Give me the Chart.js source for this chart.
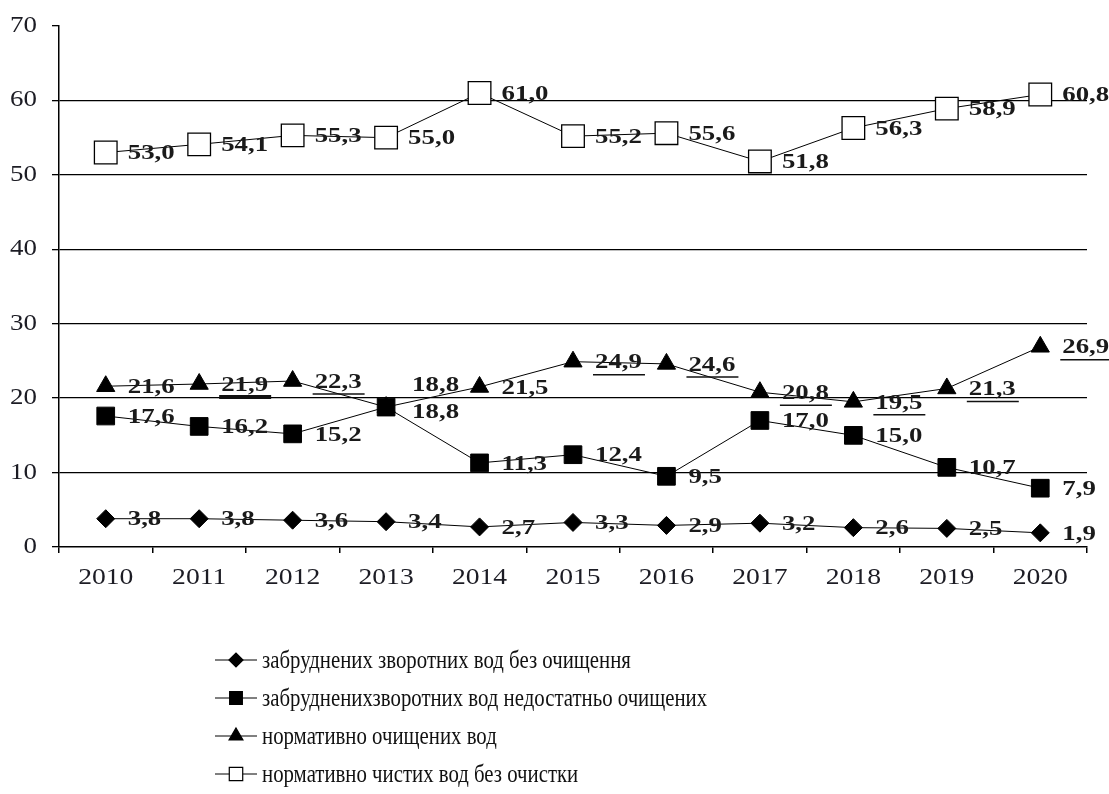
<!DOCTYPE html>
<html>
<head>
<meta charset="utf-8">
<script src="https://cdn.jsdelivr.net/npm/chart.js@4/dist/chart.umd.min.js"></script>
<style>
  html, body { margin: 0; padding: 0; background: #fff; }
  #wrap { width: 1109px; height: 794px; position: relative; }
</style>
</head>
<body>
<div id="wrap"><canvas id="Cnvs"></canvas></div>
<script>
var years = ['2010', '2011', '2012', '2013', '2014', '2015', '2016', '2017', '2018', '2019', '2020'];

var noTreatment   = [3.8, 3.8, 3.6, 3.4, 2.7, 3.3, 2.9, 3.2, 2.6, 2.5, 1.9];
var poorlyTreated = [17.6, 16.2, 15.2, 18.8, 11.3, 12.4, 9.5, 17.0, 15.0, 10.7, 7.9];
var normTreated   = [21.6, 21.9, 22.3, 18.8, 21.5, 24.9, 24.6, 20.8, 19.5, 21.3, 26.9];
var cleanNoTreat  = [53.0, 54.1, 55.3, 55.0, 61.0, 55.2, 55.6, 51.8, 56.3, 58.9, 60.8];

var seriesNames = [
  'забруднених зворотних вод без очищення',
  'забрудненихзворотних вод недостатньо очищених',
  'нормативно очищених вод',
  'нормативно чистих вод без очистки'
];

var yTicks = [0, 10, 20, 30, 40, 50, 60, 70];

var serif = '"Liberation Serif", "DejaVu Serif", serif';

// the source uses a stretched / squeezed serif, so text is drawn with a horizontal scale
function drawText(ctx, txt, x, y, font, sx, align) {
  ctx.save();
  ctx.font = font;
  ctx.textBaseline = 'middle';
  var w = ctx.measureText(txt).width * sx;
  var left = x;
  if (align === 'center') left = x - w / 2;
  if (align === 'right') left = x - w;
  ctx.translate(left, y);
  ctx.scale(sx, 1);
  ctx.textAlign = 'left';
  ctx.fillText(txt, 0, 0);
  ctx.restore();
  return w;
}

// value labels next to the points
var valueLabels = {
  id: 'valueLabels',
  afterDatasetsDraw: function(chart) {
    var ctx = chart.ctx;
    ctx.save();
    ctx.fillStyle = '#1a1a1a';
    chart.data.datasets.forEach(function(ds, di) {
      var meta = chart.getDatasetMeta(di);
      meta.data.forEach(function(pt, i) {
        var txt = ds.data[i].toFixed(1).replace('.', ',');
        var dx = 22, dy = 1;
        if (di === 1 && i === 3) { dx = 26; dy = 5; }
        if (di === 2 && i === 3) { dx = 26; dy = -22; }
        var x = pt.x + dx, y = pt.y + dy;
        var w = drawText(ctx, txt, x, y, 'bold 22px ' + serif, 1.22, 'left');
        // the triangle series has underlined labels in the source
        if (di === 2 && i >= 1 && i !== 3 && i !== 4) {
          ctx.strokeStyle = '#111';
          ctx.lineWidth = i === 1 ? 4 : 1.5;
          ctx.beginPath();
          ctx.moveTo(x - 2, y + 12);
          ctx.lineTo(x + w + 3, y + 12);
          ctx.stroke();
        }
      });
    });
    ctx.restore();
  }
};

// axis tick labels and the vertical legend under the plot
var textLayer = {
  id: 'textLayer',
  afterDraw: function(chart) {
    var ctx = chart.ctx;
    var xs = chart.scales.x, ys = chart.scales.y;
    ctx.save();
    ctx.fillStyle = '#1c1c24';
    xs.ticks.forEach(function(t, i) {
      drawText(ctx, years[i], xs.getPixelForTick(i), chart.chartArea.bottom + 31, '24px ' + serif, 1.15, 'center');
    });
    ys.ticks.forEach(function(t) {
      drawText(ctx, String(t.value), 37, ys.getPixelForValue(t.value), '23px ' + serif, 1.17, 'right');
    });

    var top = chart.chartArea.bottom + 113;
    chart.data.datasets.forEach(function(ds, i) {
      var y = top + i * 38;
      ctx.strokeStyle = '#000';
      ctx.lineWidth = 1;
      ctx.beginPath();
      ctx.moveTo(215, y);
      ctx.lineTo(257, y);
      ctx.stroke();
      ctx.fillStyle = ds.pointBackgroundColor;
      ctx.strokeStyle = '#000';
      ctx.lineWidth = 1.2;
      Chart.helpers.drawPoint(ctx, { pointStyle: ds.pointStyle, rotation: 0, radius: ds.legendRadius, borderWidth: 1.2 }, 236, y);
      ctx.fillStyle = '#111';
      drawText(ctx, seriesNames[i], 262, y + 1, '26px ' + serif, 0.8, 'left');
    });
    ctx.restore();
  }
};

var chart = new Chart(document.getElementById('Cnvs'), {
  type: 'line',
  data: {
    labels: years,
    datasets: [
      { label: seriesNames[0], data: noTreatment, pointStyle: 'rectRot', pointRadius: 9, legendRadius: 7,
        borderColor: '#000', borderWidth: 1, pointBackgroundColor: '#000', pointBorderColor: '#000' },
      { label: seriesNames[1], data: poorlyTreated, pointStyle: 'rect', pointRadius: 12.5, legendRadius: 9,
        borderColor: '#000', borderWidth: 1, pointBackgroundColor: '#000', pointBorderColor: '#000' },
      { label: seriesNames[2], data: normTreated, pointStyle: 'triangle', pointRadius: 10.5, legendRadius: 8,
        borderColor: '#000', borderWidth: 1, pointBackgroundColor: '#000', pointBorderColor: '#000' },
      { label: seriesNames[3], data: cleanNoTreat, pointStyle: 'rect', pointRadius: 16, legendRadius: 9.5,
        borderColor: '#000', borderWidth: 1, pointBackgroundColor: '#fff', pointBorderColor: '#000', pointBorderWidth: 1.3 }
    ]
  },
  options: {
    responsive: true,
    maintainAspectRatio: false,
    animation: false,
    layout: { padding: { top: 26, right: 22, bottom: 197, left: 0 } },
    elements: { line: { tension: 0 } },
    plugins: {
      legend: { display: false },
      tooltip: { enabled: false }
    },
    scales: {
      x: {
        offset: true,
        afterFit: function(s) { s.height = 50; },
        grid: { offset: true, drawOnChartArea: false, drawTicks: true, tickLength: 6, tickColor: '#000', lineWidth: 1.5 },
        border: { display: true, color: '#000', width: 1.5 },
        ticks: { display: false, maxRotation: 0 }
      },
      y: {
        min: 0,
        max: 70,
        afterFit: function(s) { s.width = 59; },
        afterBuildTicks: function(s) { s.ticks = yTicks.map(function(v) { return { value: v }; }); },
        grid: {
          color: function(c) { return (c.tick && (c.tick.value === 70 || c.tick.value === 0)) ? 'rgba(0,0,0,0)' : '#000'; },
          tickColor: '#000',
          lineWidth: 1.3,
          tickLength: 7
        },
        border: { display: true, color: '#000', width: 1.5 },
        ticks: { display: false }
      }
    }
  },
  plugins: [valueLabels, textLayer]
});
</script>
</body>
</html>
